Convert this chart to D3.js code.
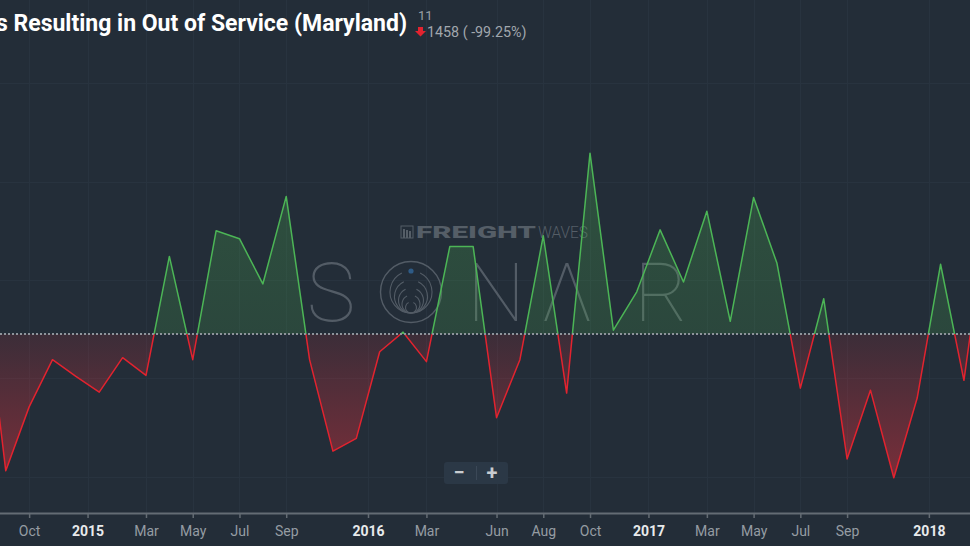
<!DOCTYPE html>
<html>
<head>
<meta charset="utf-8">
<script src="https://cdn.jsdelivr.net/npm/d3@7"></script>
<style>
  html, body { margin: 0; padding: 0; background: #232d38; overflow: hidden; }
  svg { display: block; }
</style>
</head>
<body>
<svg id="chart"></svg>
<script>
// ─── Data ────────────────────────────────────────────────────────────────
const months = [
  "2014-08","2014-09","2014-10","2014-11","2014-12",
  "2015-01","2015-02","2015-03","2015-04","2015-05","2015-06",
  "2015-07","2015-08","2015-09","2015-10","2015-11","2015-12",
  "2016-01","2016-02","2016-03","2016-04","2016-05","2016-06",
  "2016-07","2016-08","2016-09","2016-10","2016-11","2016-12",
  "2017-01","2017-02","2017-03","2017-04","2017-05","2017-06",
  "2017-07","2017-08","2017-09","2017-10","2017-11","2017-12",
  "2018-01","2018-02","2018-03"
];
const oosCounts = [
  1405, 1206, 1271, 1319, 1302,
  1286, 1321, 1303, 1424, 1319, 1450,
  1442, 1396, 1485, 1319, 1226, 1239,
  1327, 1347, 1317, 1434, 1434, 1260,
  1319, 1445, 1285, 1529, 1349, 1388,
  1451, 1398, 1470, 1358, 1484, 1417,
  1290, 1381, 1218, 1288, 1199, 1280,
  1416, 1298, 1469
];
const threshold = 1345;

// ordinal month positions (index into months) and their labels
const tickPos    = [2, 4.5, 7, 9, 11, 13, 16.5, 19, 22, 24, 26, 28.5, 31, 33, 35, 37, 40.5];
const tickLabels = ["Oct","2015","Mar","May","Jul","Sep","2016","Mar","Jun","Aug","Oct",
                    "2017","Mar","May","Jul","Sep","2018"];
const gridValues = [1200, 1300, 1400, 1500, 1600];

const titleText   = "Inspections Resulting in Out of Service (Maryland)";
const latestValue = "11";
const changeText  = "1458 ( -99.25%)";

// ─── Setup ───────────────────────────────────────────────────────────────
const W = 970, H = 546;
const axisY = 513;

const svg = d3.select("#chart").attr("width", W).attr("height", H);

svg.append("rect").attr("width", W).attr("height", H).attr("fill", "#232d38");

const x = d3.scaleLinear().domain([0, months.length - 1]).range([-17.6, 987.3]);
const y = d3.scaleLinear().domain([1200, 1600]).range([476.7, 83.3]);
const yT = y(threshold);

const defs = svg.append("defs");
defs.append("clipPath").attr("id", "above")
  .append("rect").attr("x", 0).attr("y", 0).attr("width", W).attr("height", yT);
defs.append("clipPath").attr("id", "below")
  .append("rect").attr("x", 0).attr("y", yT).attr("width", W).attr("height", axisY - yT);

const redGrad = defs.append("linearGradient").attr("id", "redFill")
  .attr("gradientUnits", "userSpaceOnUse")
  .attr("x1", 0).attr("x2", 0).attr("y1", yT).attr("y2", 480);
redGrad.append("stop").attr("offset", "0%").attr("stop-color", "#e0303c").attr("stop-opacity", 0.13);
redGrad.append("stop").attr("offset", "100%").attr("stop-color", "#e0303c").attr("stop-opacity", 0.46);

const greenGrad = defs.append("linearGradient").attr("id", "greenFill")
  .attr("gradientUnits", "userSpaceOnUse")
  .attr("x1", 0).attr("x2", 0).attr("y1", 150).attr("y2", yT);
greenGrad.append("stop").attr("offset", "0%").attr("stop-color", "#4caf50").attr("stop-opacity", 0.28);
greenGrad.append("stop").attr("offset", "100%").attr("stop-color", "#4caf50").attr("stop-opacity", 0.2);

// ─── Grid ────────────────────────────────────────────────────────────────
const grid = svg.append("g").attr("stroke", "#28333f").attr("stroke-width", 1);
grid.selectAll(".vg").data(tickPos).join("line")
  .attr("x1", d => Math.round(x(d)) + 0.5).attr("x2", d => Math.round(x(d)) + 0.5)
  .attr("y1", 0).attr("y2", axisY);
grid.selectAll(".hg").data(gridValues).join("line")
  .attr("x1", 0).attr("x2", W)
  .attr("y1", d => Math.round(y(d)) + 0.5).attr("y2", d => Math.round(y(d)) + 0.5);

// ─── Watermark ───────────────────────────────────────────────────────────
const wmColor = "#555e67";
const wm = svg.append("g").attr("class", "watermark");
const logo = wm.append("g").attr("fill", wmColor);
logo.append("rect").attr("x", 401).attr("y", 226).attr("width", 12).attr("height", 12)
  .attr("fill", "none").attr("stroke", wmColor).attr("stroke-width", 1);
[403, 406, 409].forEach((bx, k) => {
  logo.append("rect").attr("x", bx).attr("y", 229 + k).attr("width", 2).attr("height", 9 - k);
});
wm.append("text").attr("x", 416).attr("y", 238)
  .attr("font-family", "Roboto, sans-serif").attr("font-weight", 900).attr("font-size", 16)
  .attr("fill", wmColor).attr("textLength", 120).attr("lengthAdjust", "spacingAndGlyphs")
  .text("FREIGHT");
wm.append("text").attr("x", 538).attr("y", 238)
  .attr("font-family", "Roboto, sans-serif").attr("font-weight", 300).attr("font-size", 16)
  .attr("fill", wmColor).attr("textLength", 50).attr("lengthAdjust", "spacingAndGlyphs")
  .text("WAVES");

const sonar = [["S", 331], ["N", 496], ["Λ", 567], ["R", 661]];
wm.selectAll(".sonar").data(sonar).join("text")
  .attr("x", d => d[1]).attr("y", 321)
  .attr("text-anchor", "middle")
  .attr("font-family", "Roboto, sans-serif").attr("font-weight", 100).attr("font-size", 82)
  .attr("fill", "#535c66")
  .text(d => d[0]);

// the "O" with sonar rings
wm.append("circle").attr("cx", 411).attr("cy", 292).attr("r", 30.5)
  .attr("fill", "none").attr("stroke", "#535c66").attr("stroke-width", 1.4);
[21, 16.5, 12.5, 9, 5.5].forEach(r => {
  const p = d3.path();
  p.arc(411, 313 - r, r, -Math.PI / 2 + 0.45, 3 * Math.PI / 2 - 0.45);
  wm.append("path").attr("d", p.toString())
    .attr("fill", "none").attr("stroke", "#535c66").attr("stroke-width", 1.1);
});
wm.append("circle").attr("cx", 411).attr("cy", 271).attr("r", 2.6).attr("fill", "#2e5b86");

// ─── Series ──────────────────────────────────────────────────────────────
const area = d3.area().x((d, i) => x(i)).y0(yT).y1(d => y(d));
const line = d3.line().x((d, i) => x(i)).y(d => y(d));

const series = svg.append("g");
series.append("path").datum(oosCounts).attr("d", area)
  .attr("clip-path", "url(#above)").attr("fill", "url(#greenFill)");
series.append("path").datum(oosCounts).attr("d", area)
  .attr("clip-path", "url(#below)").attr("fill", "url(#redFill)");
series.append("path").datum(oosCounts).attr("d", line)
  .attr("clip-path", "url(#above)").attr("fill", "none")
  .attr("stroke", "#4cb556").attr("stroke-width", 1.5).attr("stroke-linejoin", "round");
series.append("path").datum(oosCounts).attr("d", line)
  .attr("clip-path", "url(#below)").attr("fill", "none")
  .attr("stroke", "#e2232f").attr("stroke-width", 1.5).attr("stroke-linejoin", "round");

// threshold line
svg.append("line")
  .attr("x1", 0).attr("x2", W).attr("y1", yT).attr("y2", yT)
  .attr("stroke", "#8e949b").attr("stroke-width", 2).attr("stroke-dasharray", "2,2");

// ─── X axis ──────────────────────────────────────────────────────────────
const xAxis = d3.axisBottom(x)
  .tickValues(tickPos)
  .tickFormat((d, i) => tickLabels[i])
  .tickSize(5).tickSizeOuter(0).tickPadding(8);

const xg = svg.append("g").attr("transform", `translate(0,${axisY})`).call(xAxis);
xg.select(".domain").attr("stroke", "#646c74").attr("stroke-width", 2);
xg.selectAll(".tick line").attr("stroke", "#646c74").attr("stroke-width", 1.5);
xg.selectAll(".tick text")
  .attr("font-family", "Roboto, sans-serif")
  .attr("font-size", 14)
  .attr("font-weight", (d, i) => /^\d{4}$/.test(tickLabels[i]) ? 700 : 400)
  .attr("fill", (d, i) => /^\d{4}$/.test(tickLabels[i]) ? "#e8eaec" : "#959ca3");

// ─── Zoom buttons ────────────────────────────────────────────────────────
const zb = svg.append("g");
zb.append("rect").attr("x", 444).attr("y", 462).attr("width", 64).attr("height", 22)
  .attr("rx", 3).attr("fill", "#2b3846");
zb.append("line").attr("x1", 476.5).attr("x2", 476.5).attr("y1", 466).attr("y2", 480)
  .attr("stroke", "#3b4857");
zb.append("text").attr("x", 459).attr("y", 479).attr("text-anchor", "middle")
  .attr("font-family", "Roboto, sans-serif").attr("font-weight", 700).attr("font-size", 20)
  .attr("fill", "#c8ccd0").text("−");
zb.append("text").attr("x", 492).attr("y", 480).attr("text-anchor", "middle")
  .attr("font-family", "Roboto, sans-serif").attr("font-weight", 700).attr("font-size", 20)
  .attr("fill", "#c8ccd0").text("+");

// ─── Title ───────────────────────────────────────────────────────────────
svg.append("text").attr("x", 407).attr("y", 30.5)
  .attr("text-anchor", "end")
  .attr("font-family", "Roboto, sans-serif").attr("font-weight", 700).attr("font-size", 23)
  .attr("fill", "#ffffff")
  .text(titleText);

svg.append("text").attr("x", 418).attr("y", 20)
  .attr("font-family", "Roboto, sans-serif").attr("font-size", 13)
  .attr("fill", "#9aa0a6").text(latestValue);

svg.append("path")
  .attr("d", "M418,27 h5 v4 h3 l-5.5,5.5 l-5.5,-5.5 h3 Z")
  .attr("fill", "#e2232f");

svg.append("text").attr("x", 427).attr("y", 37)
  .attr("font-family", "Roboto, sans-serif").attr("font-size", 14.3)
  .attr("fill", "#a1a7ad").text(changeText);
</script>
</body>
</html>
